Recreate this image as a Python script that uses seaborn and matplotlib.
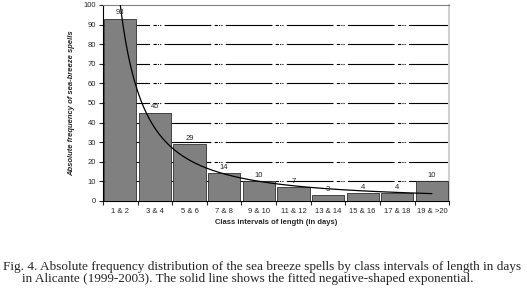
import numpy as np
import matplotlib.pyplot as plt
import pandas as pd
import seaborn as sns

classes = ["1 & 2", "3 & 4", "5 & 6", "7 & 8", "9 & 10",
           "11 & 12", "13 & 14", "15 & 16", "17 & 18", "19 & >20"]
freq = [93, 45, 29, 14, 10, 7, 3, 4, 4, 10]

# fitted curve parameters (y = a * x^-b, x = class number)
fit_a = 100.0
fit_b = 1.43

df = pd.DataFrame({"cls": classes, "freq": freq})

sns.set_style("white")
plt.rcParams['font.family'] = ['Liberation Sans', 'DejaVu Sans']

fig = plt.figure(figsize=(5.27, 2.92), dpi=100)
ax = fig.add_axes([0.1954, 0.312, 0.657, 0.671])

sns.barplot(data=df, x="cls", y="freq", color="#808080", saturation=1,
            width=0.93, edgecolor="#303030", linewidth=0.6, ax=ax, zorder=3)

for i, v in enumerate(freq):
    ax.text(i, v + 1.2, str(v), ha="center", va="bottom", fontsize=5.5, zorder=5)

# fitted line
xs = np.linspace(0.99, 10, 200)
ax.plot(xs - 1, fit_a * xs ** (-fit_b), color="black", lw=0.9, zorder=4)

ax.set_xlim(-0.5, 9.5)
ax.set_ylim(0, 100)
ax.set_yticks(range(0, 101, 10))
ax.set_xticks(np.arange(-0.5, 10, 1), minor=False)
ax.set_xticklabels([])
ax.set_xticks(range(10), minor=True)
ax.set_xticklabels(classes, minor=True, fontsize=5.5)
ax.tick_params(axis="x", which="major", length=3, width=0.8, direction="out", bottom=True)
ax.tick_params(axis="x", which="minor", length=0, pad=5)
ax.tick_params(axis="y", labelsize=5.5, length=3, width=0.8, direction="out", left=True, pad=2)

for y in range(10, 100, 10):
    ax.axhline(y, color="black", lw=0.8, ls=(0, (42, 3, 3, 1, 1, 1, 1, 3)), zorder=1)

ax.spines["left"].set_color("black")
ax.spines["bottom"].set_color("black")
ax.spines["top"].set_color("#808080")
ax.spines["right"].set_color("#d0d0d0")
ax.spines["right"].set_linewidth(1.5)

ax.set_xlabel("Class intervals of length (in days)", fontsize=5.5, fontweight="bold", labelpad=3)
ax.set_ylabel("Absolute frequency of sea-breeze spells", fontsize=5.5,
              fontweight="bold", fontstyle="italic", labelpad=6)

fig.text(0.006, 0.087, "Fig. 4. Absolute frequency distribution of the sea breeze spells by class intervals of length in days",
         fontsize=9.5, family="Liberation Serif", ha="left", va="center")
fig.text(0.47, 0.044, "in Alicante (1999-2003). The solid line shows the fitted negative-shaped exponential.",
         fontsize=9.5, family="Liberation Serif", ha="center", va="center")

fig.savefig("out.png", dpi=100)
